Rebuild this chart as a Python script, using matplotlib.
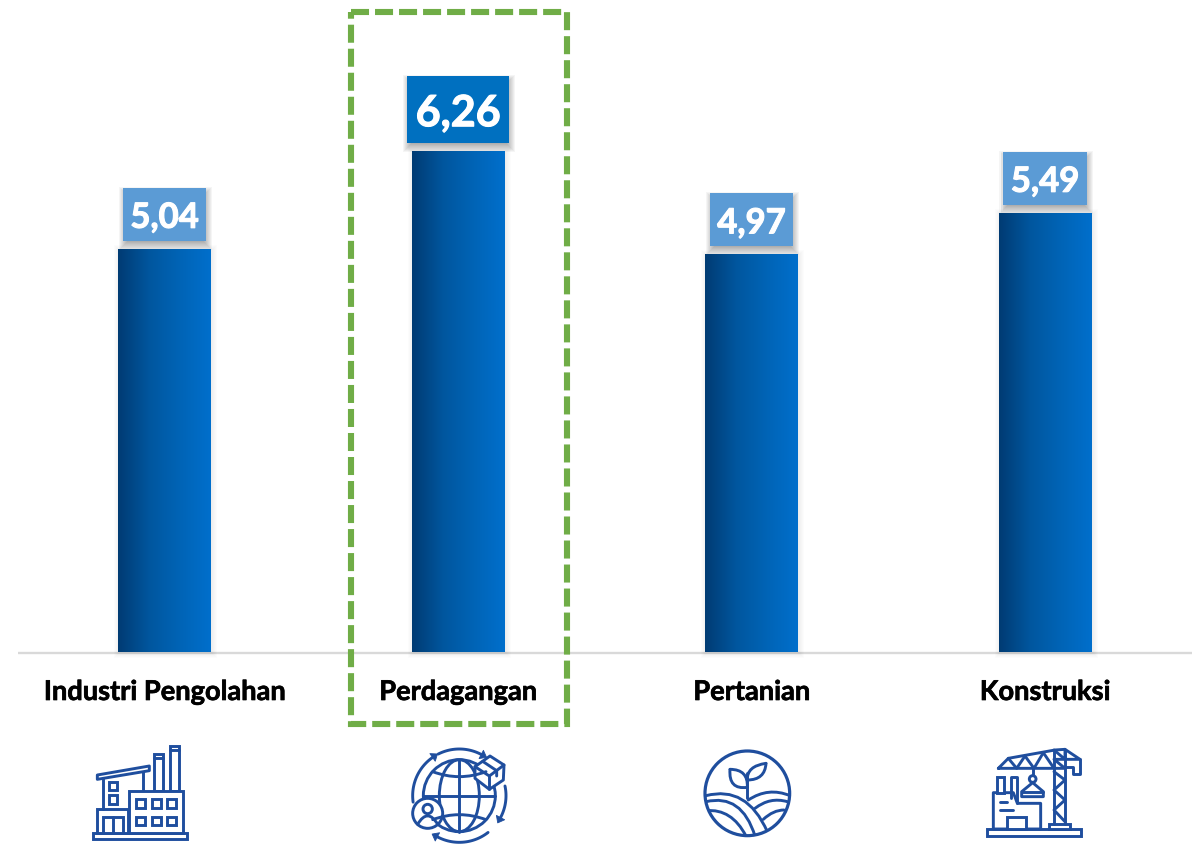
import numpy as np
import matplotlib
matplotlib.use("Agg")
import matplotlib.pyplot as plt
import matplotlib.patheffects as pe
from matplotlib.colors import LinearSegmentedColormap
from matplotlib.patches import Rectangle, Circle, Ellipse, Polygon, PathPatch
from matplotlib.path import Path

plt.rcParams['font.family'] = ['Lato', 'DejaVu Sans']

# Data
categories = ["Industri Pengolahan", "Perdagangan", "Pertanian", "Konstruksi"]
values = [5.04, 6.26, 4.97, 5.49]
value_labels = ["5,04", "6,26", "4,97", "5,49"]
highlight = 1

ICON = "#1F4E9E"
GREEN = "#70AD47"
LW = 2.1
bar_cmap = LinearSegmentedColormap.from_list("bar", ["#003B73", "#00569E", "#0064B6", "#006FCC"])

fig = plt.figure(figsize=(11.99, 8.5), dpi=100)

# chart axes cover the whole figure, 80 px per unit and 293.5 px per category
ax = fig.add_axes([0, 0, 1, 1])
ax.set_xlim(-164.5 / 293.5, (1199 - 164.5) / 293.5)
ax.set_ylim(-198 / 80, 652 / 80)
ax.axis("off")

# pixel axes for the decorations
px = fig.add_axes([0, 0, 1, 1])
px.set_xlim(0, 1199)
px.set_ylim(850, 0)
px.axis("off")
px.patch.set_alpha(0)

ux = 1 / 293.5
uy = 1 / 80


def soft_shadow(x0, y0, w, h, dx, dy, strength, blur=5):
    # stack of rectangles, going from wide and faint to narrow
    for s in range(blur, -blur - 1, -1):
        ax.add_patch(Rectangle((x0 + (dx - s) * ux, y0 - (dy + s) * uy), w + 2 * s * ux, h + 2 * s * uy,
                               fc="black", ec="none", alpha=strength, zorder=1))


ax.plot([(18 - 164.5) * ux, (1192 - 164.5) * ux], [-1 * uy, -1 * uy], color="#D9D9D9", lw=1.7, zorder=1,
        solid_capstyle="butt")

bar_w = 93 * ux
for i, v in enumerate(values):
    soft_shadow(i - bar_w / 2, 0, bar_w, v, 1, 1, 0.012)
    bars = ax.bar(i, v, width=bar_w, color="none", zorder=2)
    im = ax.imshow(np.linspace(0, 1, 256).reshape(1, -1), cmap=bar_cmap, aspect="auto",
                   extent=[i - bar_w / 2, i + bar_w / 2, 0, v], zorder=2)
    im.set_clip_path(bars[0])

    # value label box
    big = i == highlight
    box_w = (102 if big else 83) * ux
    box_h = (67 if big else 53) * uy
    box_y = v + 8 * uy
    soft_shadow(i - box_w / 2, box_y, box_w, box_h, 1, 4, 0.04)
    ax.add_patch(Rectangle((i - box_w / 2, box_y), box_w, box_h, fc="#0070C0" if big else "#5B9BD5", ec="none", zorder=3))
    ax.text(i, box_y + box_h / 2 - 3.5 * uy, value_labels[i], color="white", fontweight="bold",
            fontsize=31 if big else 25, ha="center", va="center", zorder=4,
            path_effects=[pe.withStroke(linewidth=0.8, foreground="white")])

    ax.text(i, -40 * uy, categories[i], color="black", fontweight="bold", fontsize=19.6,
            ha="center", va="center", zorder=4,
            path_effects=[pe.withStroke(linewidth=0.5, foreground="black")])

ax.set_xlim(-164.5 / 293.5, (1199 - 164.5) / 293.5)
ax.set_ylim(-198 / 80, 652 / 80)

# dashed highlight box
px.add_patch(Rectangle((351, 12), 216, 712, fc="none", ec=GREEN, lw=4.4,
                       ls=(0, (2.95, 0.98)), capstyle="butt", joinstyle="miter"))


# icons are drawn in 3x crop coordinates, scaled down here
class Icon:
    def __init__(self, ox, oy):
        self.ox, self.oy = ox, oy

    def p(self, pts):
        return [(self.ox + x / 3, self.oy + y / 3) for x, y in pts]

    def line(self, pts, lw=LW):
        xy = np.array(self.p(pts))
        px.plot(xy[:, 0], xy[:, 1], color=ICON, lw=lw, solid_capstyle="round", solid_joinstyle="round", zorder=5)

    def rect(self, x0, y0, x1, y1, lw=LW, fc="white"):
        px.add_patch(Rectangle((self.ox + x0 / 3, self.oy + y0 / 3), (x1 - x0) / 3, (y1 - y0) / 3,
                               fc=fc, ec=ICON, lw=lw, zorder=5))

    def poly(self, pts, lw=LW, fc="white"):
        px.add_patch(Polygon(self.p(pts), closed=True, fc=fc, ec=ICON, lw=lw, joinstyle="round", zorder=5))

    def circle(self, x, y, r, lw=LW, fc="white"):
        px.add_patch(Circle((self.ox + x / 3, self.oy + y / 3), r / 3, fc=fc, ec=ICON, lw=lw, zorder=5))

    def curve(self, a, b, c, lw=LW, clip=None):
        patch = PathPatch(Path(self.p([a, b, c]), [Path.MOVETO, Path.CURVE3, Path.CURVE3]),
                          fc="none", ec=ICON, lw=lw, zorder=6, capstyle="round")
        px.add_patch(patch)
        if clip is not None:
            patch.set_clip_path(clip)
        return patch


# factory
f = Icon(60, 730)
f.rect(98, 310, 380, 328)
f.rect(110, 238, 205, 310)
f.rect(128, 260, 190, 310)
f.line([(160, 260), (160, 310)])
f.line([(128, 148), (128, 238)])
f.line([(248, 122), (248, 183)])
f.poly([(112, 135), (268, 108), (268, 122), (112, 148)])
f.rect(281, 72, 308, 183)
f.rect(330, 47, 358, 183)
f.line([(281, 85), (308, 85)])
f.line([(330, 60), (358, 60)])
f.rect(208, 183, 370, 310)
for wx in [228, 276, 322]:
    for wy in [208, 260]:
        f.rect(wx, wy, wx + 27, wy + 25)
f.rect(146, 155, 172, 180)
f.rect(146, 196, 172, 222)

# globe
g = Icon(60, 730)
gx, gy, gr = 1198, 197, 108
globe = Circle((g.ox + gx / 3, g.oy + gy / 3), gr / 3, fc="white", ec=ICON, lw=LW, zorder=5)
px.add_patch(globe)
meridian = Ellipse((g.ox + gx / 3, g.oy + gy / 3), 120 / 3, 2 * gr / 3, fc="none", ec=ICON, lw=LW, zorder=5)
px.add_patch(meridian)
g.line([(gx, gy - gr), (gx, gy + gr)])
g.line([(gx - gr, gy), (gx + gr, gy)])
g.curve((1118, 125), (1198, 155), (1278, 125))
g.curve((1118, 269), (1198, 239), (1278, 269))
g.poly([(1245, 110), (1290, 78), (1332, 105), (1330, 150), (1288, 178), (1245, 145)])
g.line([(1245, 110), (1288, 138), (1332, 105)])
g.line([(1288, 138), (1288, 178)])
g.line([(1268, 94), (1310, 122), (1310, 138)])
g.circle(1103, 250, 45)
g.circle(1103, 237, 14)
g.curve((1073, 283), (1103, 232), (1133, 283))
# four arrows circling the globe, angles in degrees (y down)
arrows = [(-117, -62), (172, 235), (-12, 28), (52, 118)]
for a0, a1 in arrows:
    t = np.radians(np.linspace(a0, a1, 30))
    g.line(list(zip(gx + 140 * np.cos(t), gy + 140 * np.sin(t))))
    end = np.array([gx + 140 * np.cos(t[-1]), gy + 140 * np.sin(t[-1])])
    d = np.array([-np.sin(t[-1]), np.cos(t[-1])])
    n = np.array([-d[1], d[0]])
    g.poly([end + 18 * d, end + 14 * n, end - 14 * n], fc=ICON, lw=0.6)

# plant
h = Icon(680, 730)
ring = Circle((h.ox + 202 / 3, h.oy + 190 / 3), 127 / 3, fc="white", ec=ICON, lw=2.3, zorder=5)
px.add_patch(ring)
h.line([(202, 130), (202, 205)])
h.curve((202, 172), (145, 180), (150, 118))
h.curve((150, 118), (205, 118), (202, 172))
h.curve((202, 150), (200, 108), (258, 100))
h.curve((258, 100), (255, 150), (202, 150))
h.curve((78, 197), (200, 165), (262, 305), clip=ring)
h.curve((205, 210), (265, 170), (330, 197), clip=ring)
h.curve((78, 215), (185, 190), (225, 318), clip=ring)
h.curve((78, 242), (155, 235), (198, 318), clip=ring)
h.curve((225, 235), (270, 200), (322, 215), clip=ring)
h.curve((250, 268), (280, 240), (312, 240), clip=ring)

# crane
c = Icon(680, 730)
c.rect(922, 297, 1202, 318)
c.poly([(940, 297), (940, 188), (1000, 188), (1012, 220), (1082, 220), (1082, 297)])
c.rect(952, 140, 972, 188)
c.line([(992, 205), (992, 140), (1012, 140), (1012, 220)])
c.rect(982, 260, 1038, 297)
c.line([(960, 217), (980, 217)])
c.line([(960, 240), (1000, 240)])
c.rect(1108, 283, 1170, 297)
c.line([(1122, 283), (1122, 60)])
c.line([(1155, 283), (1155, 60)])
c.line([(1122, 125), (1155, 150), (1122, 180), (1155, 210), (1122, 240), (1155, 275)])
c.line([(955, 115), (985, 85), (1125, 60), (1155, 58), (1200, 88), (1122, 88), (1155, 115), (955, 115)])
c.line([(985, 85), (1010, 115), (1035, 78), (1062, 115), (1090, 68), (1122, 115)])
c.line([(1122, 60), (1155, 88), (1155, 58)])
c.line([(1200, 88), (1200, 132), (1180, 132), (1180, 110), (1155, 110)])
c.line([(1058, 115), (1058, 137)])
c.circle(1058, 147, 10)
c.poly([(1058, 158), (1025, 185), (1025, 200), (1090, 200), (1090, 185)])
c.line([(1025, 185), (1090, 185)])

fig.savefig("out.png", dpi=100)
